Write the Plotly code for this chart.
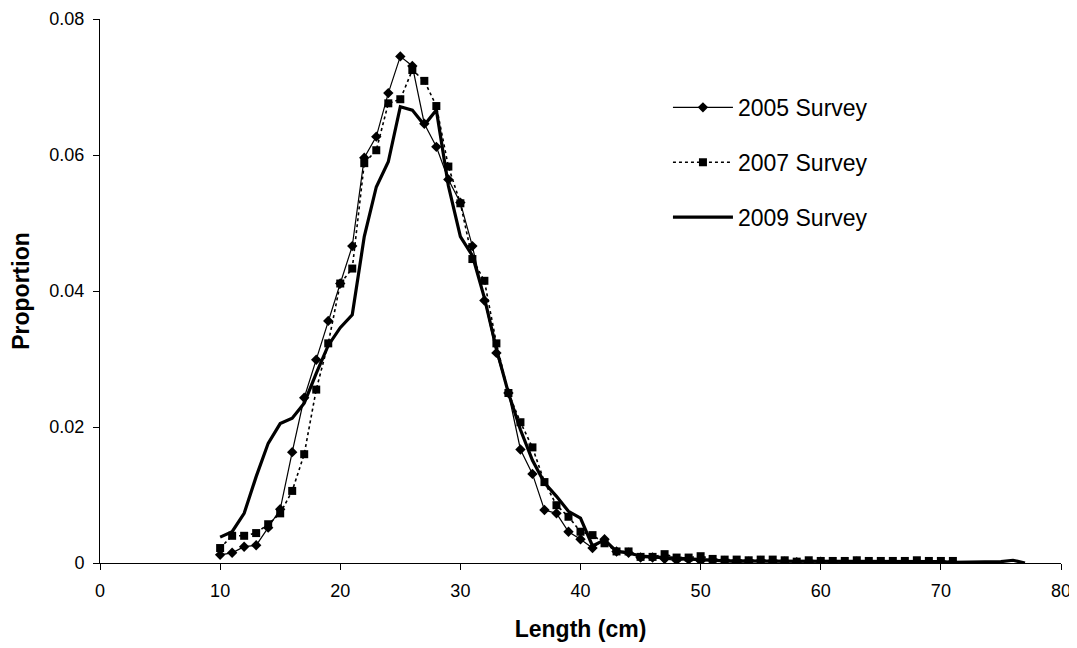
import plotly.graph_objects as go

# Length classes (cm)
len_2005 = list(range(10, 72))
len_2007 = list(range(10, 72))
len_2009 = list(range(10, 78))

prop_2005 = [
    0.0012, 0.0015, 0.0024, 0.0026, 0.0052, 0.0079, 0.0163, 0.0243, 0.0299, 0.0356,  # 10-19
    0.0411, 0.0466, 0.0596, 0.0627, 0.0691, 0.0745, 0.0731, 0.0646, 0.0612, 0.0564,  # 20-29
    0.0530, 0.0466, 0.0386, 0.0309, 0.0250, 0.0167, 0.0131, 0.0078, 0.0073, 0.0046,  # 30-39
    0.0035, 0.0022, 0.0035, 0.0017, 0.0015, 0.0008, 0.0008, 0.0006, 0.0004, 0.0005,  # 40-49
    0.0003, 0.0004, 0.0003, 0.0001, 0.0002, 0.0003, 0.0002, 0.0002, 0.0001, 0.0001,  # 50-59
    0.0002, 0.0001, 0.0001, 0.0002, 0.0001, 0.0001, 0.0001, 0.0001, 0.0001, 0.0001,  # 60-69
    0.0001, 0.0001,                                                                  # 70-71
]

prop_2007 = [
    0.0022, 0.0040, 0.0040, 0.0044, 0.0057, 0.0073, 0.0106, 0.0160, 0.0255, 0.0323,  # 10-19
    0.0411, 0.0433, 0.0588, 0.0607, 0.0676, 0.0682, 0.0725, 0.0709, 0.0672, 0.0583,  # 20-29
    0.0529, 0.0447, 0.0415, 0.0323, 0.0250, 0.0207, 0.0170, 0.0119, 0.0085, 0.0068,  # 30-39
    0.0046, 0.0041, 0.0029, 0.0017, 0.0017, 0.0009, 0.0009, 0.0013, 0.0008, 0.0008,  # 40-49
    0.0010, 0.0006, 0.0005, 0.0005, 0.0004, 0.0005, 0.0005, 0.0004, 0.0002, 0.0004,  # 50-59
    0.0003, 0.0003, 0.0003, 0.0004, 0.0003, 0.0003, 0.0003, 0.0003, 0.0004, 0.0003,  # 60-69
    0.0003, 0.0003,                                                                  # 70-71
]

prop_2009 = [
    0.0038, 0.0046, 0.0073, 0.0127, 0.0176, 0.0205, 0.0213, 0.0235, 0.0279, 0.0320,  # 10-19
    0.0346, 0.0365, 0.0480, 0.0553, 0.0590, 0.0671, 0.0666, 0.0644, 0.0666, 0.0555,  # 20-29
    0.0480, 0.0452, 0.0390, 0.0315, 0.0250, 0.0196, 0.0151, 0.0118, 0.0098, 0.0076,  # 30-39
    0.0066, 0.0025, 0.0034, 0.0017, 0.0015, 0.0010, 0.0009, 0.0008, 0.0006, 0.0006,  # 40-49
    0.0005, 0.0004, 0.0003, 0.0003, 0.0003, 0.0003, 0.0003, 0.0003, 0.0002, 0.0002,  # 50-59
    0.0002, 0.0002, 0.0002, 0.0002, 0.0002, 0.0002, 0.0002, 0.0002, 0.0002, 0.0002,  # 60-69
    0.0002, 0.0001, 0.0001, 0.0001, 0.0001, 0.0002, 0.0004, 0.0000,                  # 70-77
]

series_names = ["2005 Survey", "2007 Survey", "2009 Survey"]

x_ticks = [0, 10, 20, 30, 40, 50, 60, 70, 80]
y_ticks = [0, 0.02, 0.04, 0.06, 0.08]
y_tick_labels = ["0", "0.02", "0.04", "0.06", "0.08"]

FONT = "Arial, 'Liberation Sans', sans-serif"

fig = go.Figure()
fig.add_trace(go.Scatter(
    x=len_2005, y=prop_2005, name=series_names[0], mode="lines+markers",
    line=dict(color="black", width=1.2),
    marker=dict(symbol="diamond", size=8, color="black"),
    legendgroup="a",
))
fig.add_trace(go.Scatter(
    x=len_2007, y=prop_2007, name=series_names[1], mode="lines+markers",
    line=dict(color="black", width=1.6, dash="3px,3px"),
    marker=dict(symbol="square", size=8, color="black"),
    legendgroup="b",
))
fig.add_trace(go.Scatter(
    x=len_2009, y=prop_2009, name=series_names[2], mode="lines",
    line=dict(color="black", width=3.2),
    legendgroup="c",
))

# The page body adds an 8 px margin, so the figure is sized to fit the window.
fig.update_layout(
    width=1069, height=640,
    paper_bgcolor="white", plot_bgcolor="white",
    margin=dict(l=92, r=16, t=11, b=85, autoexpand=False),
    font=dict(family=FONT, color="black", size=18),
    showlegend=True,
    legend=dict(
        x=0.591, y=0.877, xanchor="left", yanchor="top",
        font=dict(size=23, family=FONT, color="black"),
        bgcolor="rgba(0,0,0,0)",
        traceorder="grouped", tracegroupgap=22,
        itemwidth=60,
    ),
    xaxis=dict(
        range=[0, 80], tickvals=x_ticks, ticks="outside", ticklen=6,
        tickcolor="black", tickwidth=1, showline=True, linecolor="black",
        linewidth=1, showgrid=False, zeroline=False, automargin=False,
        ticklabelstandoff=5,
        tickfont=dict(size=18, family=FONT),
        title=dict(text="<b>Length (cm)</b>", font=dict(size=23, family=FONT), standoff=21),
    ),
    yaxis=dict(
        range=[0, 0.08], tickvals=y_ticks, ticktext=y_tick_labels,
        ticks="outside", ticklen=6, tickcolor="black", tickwidth=1,
        showline=True, linecolor="black", linewidth=1, showgrid=False,
        zeroline=False, automargin=False, ticklabelstandoff=5,
        tickfont=dict(size=18, family=FONT),
        title=dict(text="<b>Proportion</b>", font=dict(size=23, family=FONT)),
    ),
)

fig.write_html("out.html")
